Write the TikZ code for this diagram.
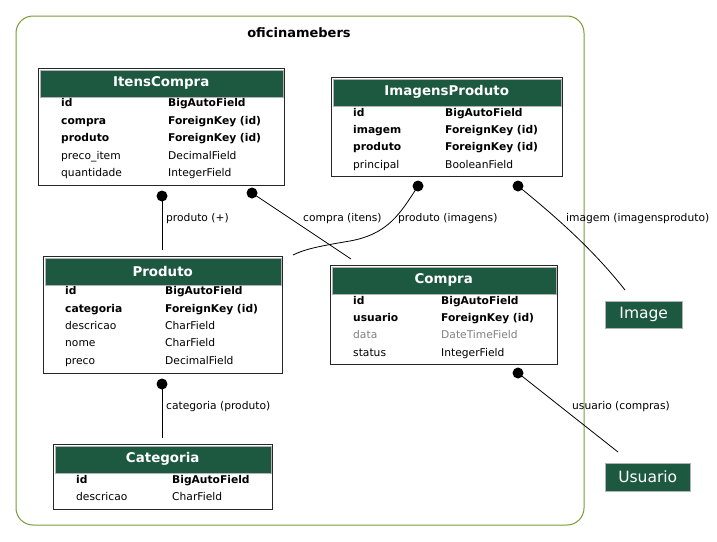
\documentclass[tikz,border=0pt]{standalone}
\usepackage{fontspec}
\setmainfont{DejaVu Sans}
\definecolor{hdrgreen}{RGB}{29,88,64}
\definecolor{clusterline}{RGB}{122,154,58}
\definecolor{dimgray}{RGB}{128,128,128}
\begin{document}
\begin{tikzpicture}[x=1pt,y=-1pt,
  tbl/.style={draw=black!85,line width=1pt,inner sep=0pt,anchor=north west,fill=white},
  hdr/.style={fill=hdrgreen,draw=gray!60,line width=0.4pt,inner sep=0pt,anchor=north west,
     text=white,font=\fontsize{13.4}{15}\selectfont\bfseries},
  fb/.style={anchor=west,inner sep=0pt,text height=8pt,text depth=2pt,font=\fontsize{10.7}{12}\selectfont\bfseries},
  fn/.style={anchor=west,inner sep=0pt,text height=8pt,text depth=2pt,font=\fontsize{10.7}{12}\selectfont},
  fg/.style={fn,text=dimgray},
  ext/.style={fill=hdrgreen,draw=gray!60,line width=0.4pt,inner sep=0pt,anchor=north west,
     text=white,font=\fontsize{15.5}{17}\selectfont},
  dot/.style={circle,fill=black,inner sep=0pt,minimum size=11pt},
  edge/.style={draw=black,line width=0.8pt},
  lbl/.style={anchor=west,inner sep=0pt,font=\fontsize{10.7}{12}\selectfont}
]
\useasboundingbox (0,0) rectangle (717,541);
\fill[white] (0,0) rectangle (717,541);

% cluster
\draw[clusterline,line width=1pt,rounded corners=17pt] (16,16) rectangle (584,525);
\node[font=\fontsize{13}{15}\selectfont\bfseries,inner sep=0pt] (ctitle) at (299,33) {oficinamebers};

% ItensCompra
\node[tbl,minimum width=246pt,minimum height=117pt] (ic) at (38,68) {};
\node[hdr,minimum width=243pt,minimum height=27pt] (ich) at (39.5,69.5) {ItensCompra};
\node[fb] (ic1a) at (61,103) {id};          \node[fb] (ic1b) at (168,103) {BigAutoField};
\node[fb] (ic2a) at (61,121) {compra};      \node[fb] (ic2b) at (168,121) {ForeignKey (id)};
\node[fb] (ic3a) at (61,138) {produto};     \node[fb] (ic3b) at (168,138) {ForeignKey (id)};
\node[fn] (ic4a) at (61,156) {preco\_item}; \node[fn] (ic4b) at (168,156) {DecimalField};
\node[fn] (ic5a) at (61,173) {quantidade};  \node[fn] (ic5b) at (168,173) {IntegerField};

% ImagensProduto
\node[tbl,minimum width=231pt,minimum height=99pt] (ip) at (331,77) {};
\node[hdr,minimum width=228pt,minimum height=27pt] (iph) at (332.5,78.5) {ImagensProduto};
\node[fb] (ip1a) at (353,113) {id};        \node[fb] (ip1b) at (445,113) {BigAutoField};
\node[fb] (ip2a) at (353,130) {imagem};    \node[fb] (ip2b) at (445,130) {ForeignKey (id)};
\node[fb] (ip3a) at (353,147) {produto};   \node[fb] (ip3b) at (445,147) {ForeignKey (id)};
\node[fn] (ip4a) at (353,165) {principal}; \node[fn] (ip4b) at (445,165) {BooleanField};

% Produto
\node[tbl,minimum width=239pt,minimum height=117pt] (pr) at (43,256) {};
\node[hdr,minimum width=236pt,minimum height=27pt] (prh) at (44.5,257.5) {Produto};
\node[fb] (pr1a) at (65,291) {id};         \node[fb] (pr1b) at (165,291) {BigAutoField};
\node[fb] (pr2a) at (65,309) {categoria};  \node[fb] (pr2b) at (165,309) {ForeignKey (id)};
\node[fn] (pr3a) at (65,326) {descricao};  \node[fn] (pr3b) at (165,326) {CharField};
\node[fn] (pr4a) at (65,343) {nome};       \node[fn] (pr4b) at (165,343) {CharField};
\node[fn] (pr5a) at (65,361) {preco};      \node[fn] (pr5b) at (165,361) {DecimalField};

% Compra
\node[tbl,minimum width=227pt,minimum height=99pt] (co) at (330,265) {};
\node[hdr,minimum width=224pt,minimum height=27pt] (coh) at (331.5,266.5) {Compra};
\node[fb] (co1a) at (353,301) {id};       \node[fb] (co1b) at (441,301) {BigAutoField};
\node[fb] (co2a) at (353,318) {usuario};  \node[fb] (co2b) at (441,318) {ForeignKey (id)};
\node[fg] (co3a) at (353,335) {data};     \node[fg] (co3b) at (441,335) {DateTimeField};
\node[fn] (co4a) at (353,353) {status};   \node[fn] (co4b) at (441,353) {IntegerField};

% Categoria
\node[tbl,minimum width=219pt,minimum height=65pt] (ca) at (53,444) {};
\node[hdr,minimum width=216pt,minimum height=27pt] (cah) at (54.5,445.5) {Categoria};
\node[fb] (ca1a) at (76,480) {id};        \node[fb] (ca1b) at (172,480) {BigAutoField};
\node[fn] (ca2a) at (76,497) {descricao}; \node[fn] (ca2b) at (172,497) {CharField};

% external
\node[ext,minimum width=77pt,minimum height=27pt] (img) at (605,301) {Image};
\node[ext,minimum width=85pt,minimum height=28pt] (usr) at (605,463) {Usuario};

% connectors
\node[dot] (d1) at (162,196) {};
\coordinate (e1) at (162,250);
\draw[edge] (d1.center) -- (e1);
\node[lbl] (l1) at (166,219) {produto (+)};

\node[dot] (d2) at (252,193) {};
\coordinate (e2) at (351,259);
\draw[edge] (d2.center) -- (e2);
\node[lbl] (l2) at (303,219) {compra (itens)};

\node[dot] (d3) at (418,186) {};
\coordinate (e3) at (293,255);
\draw[edge] (d3.center) .. controls (400,214) and (388,234) .. (350,241) .. controls (320,246) and (305,249) .. (e3);
\node[lbl] (l3) at (398,219) {produto (imagens)};

\node[dot] (d4) at (518,186) {};
\coordinate (e4) at (625,290);
\draw[edge] (d4.center) .. controls (560,220) and (595,252) .. (e4);
\node[lbl] (l4) at (566,219) {imagem (imagensproduto)};

\node[dot] (d5) at (518,373) {};
\coordinate (e5) at (618,452);
\draw[edge] (d5.center) -- (e5);
\node[lbl] (l5) at (572,407) {usuario (compras)};

\node[dot] (d6) at (162,384) {};
\coordinate (e6) at (162,438);
\draw[edge] (d6.center) -- (e6);
\node[lbl] (l6) at (166,407) {categoria (produto)};
\end{tikzpicture}
\end{document}
